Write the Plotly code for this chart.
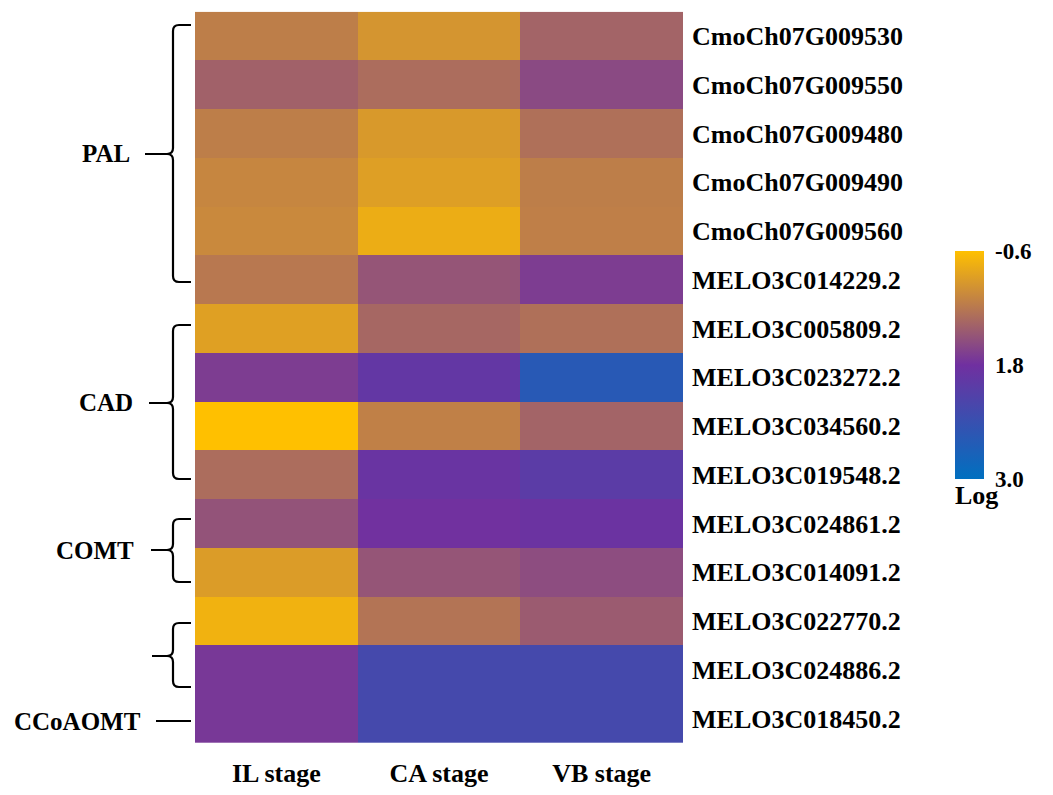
import numpy as np
import plotly.graph_objects as go

# ---------------- data ----------------
stages = ["IL stage", "CA stage", "VB stage"]
genes = [
    "CmoCh07G009530", "CmoCh07G009550", "CmoCh07G009480", "CmoCh07G009490",
    "CmoCh07G009560", "MELO3C014229.2", "MELO3C005809.2", "MELO3C023272.2",
    "MELO3C034560.2", "MELO3C019548.2", "MELO3C024861.2", "MELO3C014091.2",
    "MELO3C022770.2", "MELO3C024886.2", "MELO3C018450.2",
]
il_values = [0.50, 0.98, 0.50, 0.36, 0.31, 0.60, -0.07, 1.58, -0.60, 0.79, 1.22, 0.00, -0.36, 1.66, 1.66]
ca_values = [0.12, 0.79, 0.05, -0.05, -0.28, 1.18, 0.89, 1.94, 0.46, 1.88, 1.78, 1.18, 0.67, 2.26, 2.26]
vb_values = [0.94, 1.37, 0.74, 0.50, 0.48, 1.58, 0.74, 2.57, 0.94, 2.02, 1.85, 1.32, 1.08, 2.26, 2.26]

scale_ticks = [-0.6, 1.8, 3.0]          # colour-bar labels (Log), top to bottom
scale_pos = [1.0, 0.5, 0.0]             # where each label sits on the bar
group_names = ["PAL", "CAD", "COMT", "CCoAOMT"]

# ---------------- figure ----------------
OFF = 8                      # page body margin of the browser
W, H = 1053 - OFF, 795 - OFF
values = np.array([il_values, ca_values, vb_values]).T
z_plot = np.interp(values, scale_ticks, scale_pos)

FONT = "Liberation Serif"


def px(x):
    return (x - OFF) / W


def py(y):
    return 1 - (y - OFF) / H


fig = go.Figure(go.Heatmap(
    z=z_plot,
    x=stages,
    y=genes,
    customdata=values,
    hovertemplate="%{y}<br>%{x}<br>Log: %{customdata:.2f}<extra></extra>",
    zmin=0, zmax=1,
    colorscale=[[0.0, "#0070C0"], [0.5, "#7030A0"], [1.0, "#FFC000"]],
    xgap=0, ygap=0,
    colorbar=dict(
        x=px(955), xanchor="left",
        y=py(251), yanchor="top",
        len=262, lenmode="pixels",
        thickness=29, thicknessmode="pixels",
        xpad=0, ypad=0,
        outlinewidth=0,
        tickvals=scale_pos,
        ticktext=[f"{v:.1f}" for v in scale_ticks],
        ticks="outside", ticklen=7, tickcolor="rgba(0,0,0,0)",
        tickfont=dict(family=FONT, size=23, color="black", weight="bold"),
        title=dict(text="Log", side="bottom",
                   font=dict(family=FONT, size=26, color="black", weight="bold")),
    ),
))

fig.update_layout(
    width=W, height=H,
    margin=dict(l=0, r=0, t=0, b=0),
    paper_bgcolor="white", plot_bgcolor="white",
    xaxis=dict(
        domain=[px(195), px(683)],
        showgrid=False, zeroline=False, ticks="",
        ticklabelstandoff=12,
        tickfont=dict(family=FONT, size=26, color="black", weight="bold"),
    ),
    yaxis=dict(
        domain=[py(743), py(11.7)],
        side="right", autorange="reversed",
        showgrid=False, zeroline=False, ticks="",
        ticklabelstandoff=8,
        tickfont=dict(family=FONT, size=26, color="black", weight="bold"),
    ),
    showlegend=False,
)


def brace(top, bot, mid, vx=173, tip=191, mtip=147, r=6):
    pts = [
        f"M {px(tip)},{py(top)}",
        f"L {px(vx + r)},{py(top)}",
        f"Q {px(vx)},{py(top)} {px(vx)},{py(top + r)}",
        f"L {px(vx)},{py(mid - r)}",
        f"Q {px(vx)},{py(mid)} {px(vx - r)},{py(mid)}",
        f"Q {px(vx)},{py(mid)} {px(vx)},{py(mid + r)}",
        f"L {px(vx)},{py(bot - r)}",
        f"Q {px(vx)},{py(bot)} {px(vx + r)},{py(bot)}",
        f"L {px(tip)},{py(bot)}",
        f"M {px(vx - r)},{py(mid)}",
        f"L {px(mtip)},{py(mid)}",
    ]
    return dict(type="path", xref="paper", yref="paper", path=" ".join(pts),
                line=dict(color="black", width=2.2))


shapes = [
    brace(25, 282, 154, mtip=145),
    brace(325, 479, 403, mtip=149),
    brace(519, 582, 550, mtip=151),
    brace(623, 687, 656, mtip=152),
    dict(type="line", xref="paper", yref="paper",
         x0=px(156), x1=px(191), y0=py(721), y1=py(721),
         line=dict(color="black", width=2.2)),
]
fig.update_layout(shapes=shapes)

label_pos = [(132, 154), (135, 403), (136, 550), (143, 721)]
for name, (xr, yc) in zip(group_names, label_pos):
    fig.add_annotation(
        text=name, xref="paper", yref="paper",
        x=px(xr), y=py(yc), xanchor="right", yanchor="middle",
        showarrow=False,
        font=dict(family=FONT, size=25, color="black", weight="bold"),
    )

fig.write_html("out.html")
